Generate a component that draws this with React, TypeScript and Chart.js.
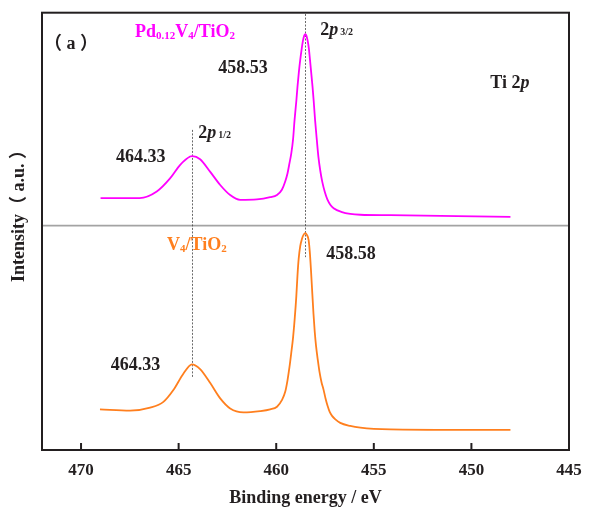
import React, { useEffect, useRef } from "react";
import { Chart, registerables } from "chart.js";

Chart.register(...registerables);

// Binding energy (eV) and intensity (a.u.)
const energyPd = [469.0, 467.0, 466.12, 465.44, 464.92, 464.41, 464.3, 463.9, 463.38, 462.87, 462.36, 461.85, 460.99, 460.31, 459.96, 459.71, 459.54, 459.42, 459.32, 459.23, 459.14, 459.06, 458.97, 458.91, 458.84, 458.77, 458.69, 458.63, 458.56, 458.51, 458.46, 458.39, 458.33, 458.27, 458.21, 458.14, 458.08, 458.01, 457.92, 457.84, 457.74, 457.64, 457.51, 457.38, 457.23, 457.06, 456.63, 456.21, 455.69, 454.15, 450.73, 448.0];
const intensityPd = [57.6, 57.6, 59.1, 62.1, 65.2, 67.1, 67.2, 66.5, 63.6, 60.6, 58.3, 57.2, 57.3, 57.8, 58.3, 59.5, 61.4, 63.3, 65.6, 67.8, 70.9, 75.5, 79.8, 83.1, 86.4, 89.2, 91.9, 93.6, 94.8, 95.1, 94.8, 93.6, 91.9, 89.2, 86.4, 83.1, 79.8, 75.5, 70.9, 67.1, 63.8, 61.3, 59.0, 57.3, 56.1, 55.3, 54.4, 54.0, 53.8, 53.7, 53.5, 53.3];

const energyV = [469.03, 467.49, 466.46, 465.78, 465.27, 464.75, 464.32, 463.9, 463.38, 462.87, 462.36, 461.68, 460.82, 460.31, 459.96, 459.71, 459.54, 459.42, 459.32, 459.23, 459.14, 459.05, 458.97, 458.91, 458.85, 458.77, 458.68, 458.6, 458.51, 458.43, 458.34, 458.28, 458.22, 458.15, 458.09, 458.03, 457.96, 457.87, 457.78, 457.68, 457.57, 457.47, 457.37, 457.26, 457.14, 456.97, 456.72, 456.21, 455.69, 454.15, 450.73, 448.0];
const intensityV = [9.3, 9.0, 9.7, 11.0, 13.7, 17.5, 19.6, 18.5, 15.3, 11.8, 9.5, 8.6, 8.9, 9.3, 9.9, 11.4, 13.3, 16.0, 19.0, 22.2, 25.6, 30.2, 35.2, 40.0, 43.7, 46.6, 48.3, 49.2, 49.6, 49.2, 48.0, 45.3, 41.2, 35.7, 31.1, 27.2, 23.8, 20.6, 17.8, 15.5, 13.7, 11.7, 10.1, 8.7, 7.8, 7.0, 6.2, 5.5, 5.1, 4.7, 4.6, 4.6];

const tickValues = [470, 465, 460, 455, 450, 445];
const peakLineEnergy = [464.3, 458.51];
const peakLineTop = [73.2, 99.7];
const peakLineBottom = [16.7, 44.1];
const separatorLevel = 51.3;

const FONT = "'Liberation Serif', 'Noto Sans CJK SC', serif";
const INK = "#231f20";
const MAGENTA = "#ff00ff";
const ORANGE = "#ff7f1e";

type Part = { t: string; s: number; it?: boolean; dy?: number; dx?: number };

function drawParts(ctx: CanvasRenderingContext2D, x: number, y: number, parts: Part[], color: string, align: "left" | "center" = "left") {
  ctx.save();
  ctx.fillStyle = color;
  ctx.textBaseline = "alphabetic";
  ctx.textAlign = "left";
  let w = 0;
  for (const p of parts) {
    ctx.font = `${p.it ? "italic " : ""}bold ${p.s}px ${FONT}`;
    w += ctx.measureText(p.t).width + (p.dx || 0);
  }
  let cx = align === "center" ? x - w / 2 : x;
  for (const p of parts) {
    ctx.font = `${p.it ? "italic " : ""}bold ${p.s}px ${FONT}`;
    cx += p.dx || 0;
    ctx.fillText(p.t, cx, y + (p.dy || 0));
    cx += ctx.measureText(p.t).width;
  }
  ctx.restore();
}

const decor = {
  id: "decor",
  beforeDatasetsDraw(chart: any) {
    const { ctx, chartArea: a, scales } = chart;
    const xs = scales.x;
    const ys = scales.y;
    ctx.save();
    ctx.strokeStyle = "#a3a3a3";
    ctx.lineWidth = 1.6;
    const sy = ys.getPixelForValue(separatorLevel);
    ctx.beginPath();
    ctx.moveTo(a.left, sy);
    ctx.lineTo(a.right, sy);
    ctx.stroke();
    ctx.strokeStyle = "#444";
    ctx.lineWidth = 0.8;
    ctx.setLineDash([2, 1.5]);
    peakLineEnergy.forEach((e, i) => {
      const px = Math.round(xs.getPixelForValue(e)) + 0.5;
      ctx.beginPath();
      ctx.moveTo(px, ys.getPixelForValue(peakLineTop[i]));
      ctx.lineTo(px, ys.getPixelForValue(peakLineBottom[i]));
      ctx.stroke();
    });
    ctx.restore();
  },
  afterDatasetsDraw(chart: any) {
    const { ctx, chartArea: a, scales } = chart;
    const xs = scales.x;
    const ys = scales.y;
    const X = (e: number) => xs.getPixelForValue(e);
    const Y = (v: number) => ys.getPixelForValue(v);
    ctx.save();
    ctx.strokeStyle = INK;
    ctx.lineWidth = 2;
    ctx.strokeRect(a.left, a.top, a.right - a.left, a.bottom - a.top);
    tickValues.forEach((v) => {
      const px = X(v);
      if (Math.abs(px - a.right) < 2) return;
      ctx.beginPath();
      ctx.moveTo(px, a.bottom);
      ctx.lineTo(px, a.bottom - 7);
      ctx.stroke();
    });
    ctx.restore();

    drawParts(ctx, X(470.51), Y(91.8), [{ t: "（ a ）", s: 18 }], INK, "center");
    drawParts(ctx, X(467.23), Y(94.5), [
      { t: "Pd", s: 18 },
      { t: "0.12", s: 11, dy: 2 },
      { t: "V", s: 18 },
      { t: "4", s: 11, dy: 2 },
      { t: "/TiO", s: 18 },
      { t: "2", s: 11, dy: 2 },
    ], MAGENTA);
    drawParts(ctx, X(462.97), Y(86.3), [{ t: "458.53", s: 18 }], INK);
    drawParts(ctx, X(464.0), Y(71.3), [
      { t: "2", s: 18 },
      { t: "p", s: 18, it: true },
      { t: "1/2", s: 10, dx: 2 },
    ], INK);
    drawParts(ctx, X(468.21), Y(65.9), [{ t: "464.33", s: 18 }], INK);
    drawParts(ctx, X(457.74), Y(94.9), [
      { t: "2", s: 18 },
      { t: "p", s: 18, it: true },
      { t: "3/2", s: 10, dx: 2 },
    ], INK);
    drawParts(ctx, X(449.03), Y(82.7), [
      { t: "Ti 2", s: 18 },
      { t: "p", s: 18, it: true },
    ], INK);
    drawParts(ctx, X(465.59), Y(45.7), [
      { t: "V", s: 18 },
      { t: "4", s: 11, dy: 2 },
      { t: "/TiO", s: 18 },
      { t: "2", s: 11, dy: 2 },
    ], ORANGE);
    drawParts(ctx, X(468.48), Y(18.3), [{ t: "464.33", s: 18 }], INK);
    drawParts(ctx, X(457.44), Y(43.6), [{ t: "458.58", s: 18 }], INK);

    drawParts(ctx, (a.left + a.right) / 2, 503, [{ t: "Binding energy / eV", s: 18 }], INK, "center");
    ctx.save();
    ctx.translate(24, 282);
    ctx.rotate(-Math.PI / 2);
    drawParts(ctx, 0, 0, [{ t: "Intensity（ a.u. ）", s: 18 }], INK, "left");
    ctx.restore();
  },
};

export default function App() {
  const ref = useRef<HTMLCanvasElement>(null);
  useEffect(() => {
    if (!ref.current) return;
    const chart = new Chart(ref.current, {
      type: "line",
      data: {
        datasets: [
          {
            label: "Pd0.12V4/TiO2",
            data: energyPd.map((e, i) => ({ x: e, y: intensityPd[i] })),
            borderColor: MAGENTA,
            borderWidth: 1.8,
            pointRadius: 0,
            cubicInterpolationMode: "monotone",
            fill: false,
          },
          {
            label: "V4/TiO2",
            data: energyV.map((e, i) => ({ x: e, y: intensityV[i] })),
            borderColor: ORANGE,
            borderWidth: 1.8,
            pointRadius: 0,
            cubicInterpolationMode: "monotone",
            fill: false,
          },
        ],
      },
      options: {
        animation: false,
        responsive: false,
        devicePixelRatio: 1,
        layout: { padding: { top: 12.7, right: 23, left: 0, bottom: 0 } },
        plugins: { legend: { display: false }, tooltip: { enabled: false } },
        scales: {
          x: {
            type: "linear",
            reverse: true,
            min: 445,
            max: 472,
            afterBuildTicks: (s: any) => {
              s.ticks = tickValues.map((v) => ({ value: v }));
            },
            afterFit: (s: any) => {
              s.height = 58;
            },
            grid: { display: false },
            border: { display: false },
            ticks: {
              color: INK,
              padding: 2,
              maxRotation: 0,
              autoSkip: false,
              font: { family: FONT, size: 17, weight: "bold" },
            },
          },
          y: {
            min: 0,
            max: 100,
            afterFit: (s: any) => {
              s.width = 42;
            },
            grid: { display: false },
            border: { display: false },
            ticks: { display: false },
          },
        },
      },
      plugins: [decor],
    } as any);
    return () => chart.destroy();
  }, []);
  return (
    <div style={{ position: "absolute", left: 0, top: 0, width: 592, height: 508, background: "#fff" }}>
      <canvas ref={ref} width={592} height={508} style={{ width: 592, height: 508, display: "block" }} />
    </div>
  );
}
